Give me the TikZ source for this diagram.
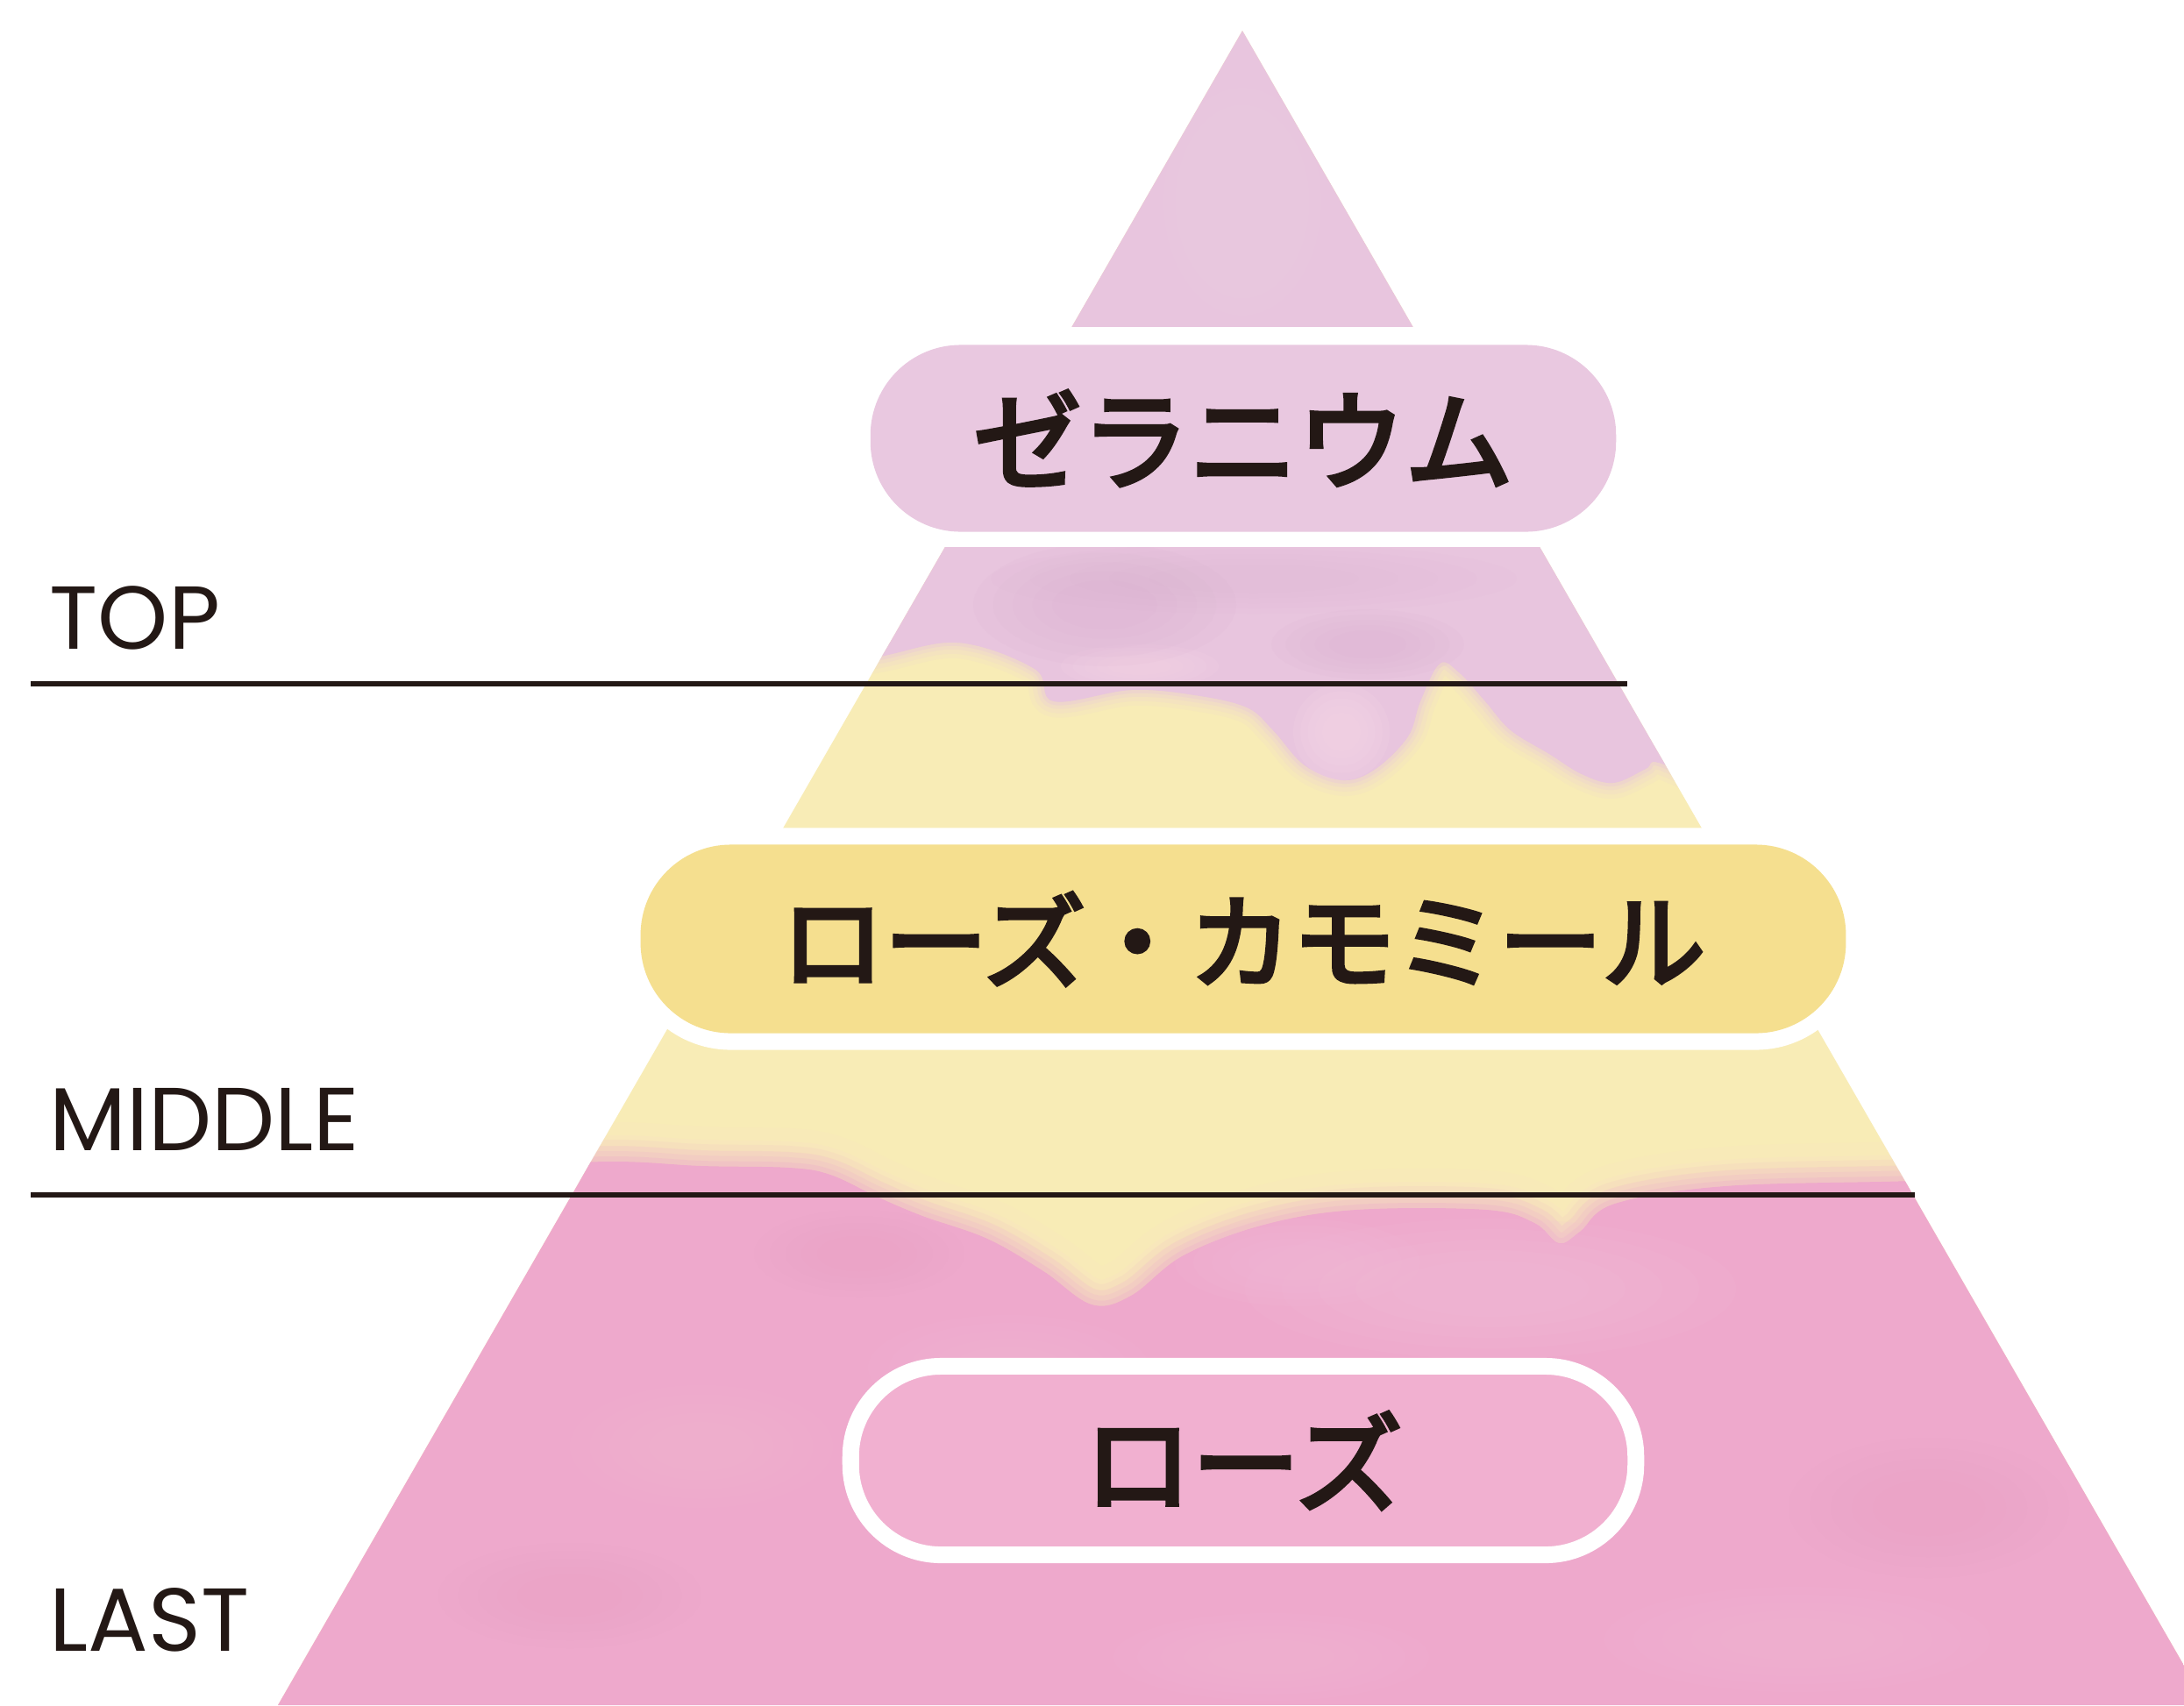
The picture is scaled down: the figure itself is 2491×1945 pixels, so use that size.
\documentclass[tikz,border=0pt]{standalone}
\usepackage{fontspec}
\setmainfont{Poppins}
\newfontfamily\jpfont{Noto Sans CJK JP}[UprightFeatures={FakeBold=4}]
\definecolor{ink}{HTML}{231815}
\definecolor{lav}{HTML}{E8C5DE}
\definecolor{lavlight}{HTML}{EED3E7}
\definecolor{lavdark}{HTML}{DCB0D2}
\definecolor{lavpill}{HTML}{E9C8E0}
\definecolor{pinkdrip}{HTML}{F3D2E4}
\definecolor{yel}{HTML}{F8ECB6}
\definecolor{yelpill}{HTML}{F5DF8F}
\definecolor{peach}{HTML}{F8DCCB}
\definecolor{pnk}{HTML}{EEA9CC}
\definecolor{pnklight}{HTML}{F3C0DA}
\definecolor{pnkdark}{HTML}{EBA1C6}
\definecolor{pnkpill}{HTML}{F1B0D0}
\newcommand\softblob[6]{%
  \foreach \k in {1,0.85,0.7,0.55,0.4}{\fill[#1, opacity=#6] (#2,#3) ellipse [x radius=#4*\k, y radius=#5*\k];}}
\begin{document}
\begin{tikzpicture}[x=0.01cm,y=-0.01cm,
  pillbase/.style={rectangle, rounded corners=1.03cm, inner sep=0pt, text=ink},
  jpbig/.style={font=\jpfont\fontsize{35}{40}\selectfont},
  jpmid/.style={font=\jpfont\fontsize{33.5}{40}\selectfont},
  lvl/.style={anchor=base west, inner sep=0pt, font=\fontsize{29}{34}\selectfont, text=ink},
  rule/.style={draw=ink, line width=0.06cm}]
\useasboundingbox (0,0) rectangle (2491,1945);
\fill[white] (0,0) rectangle (2491,1945);
\begin{scope}
  \clip (0,0) rectangle (2491,1945);
  \clip (1417,35) -- (2517,1945) -- (317,1945) -- cycle;
  % yellow base
  \fill[yel] (0,0) rectangle (2491,1945);
  % lavender upper part with drips
  \def\bone{(1960,900)(1892,870)(1877,877)(1840,893)(1804,883)(1767,860)(1723,833)(1694,800)(1664,767)(1642,757)(1620,800)(1606,840)(1569,877)(1532,890)(1488,873)(1452,833)(1422,807)(1363,793)(1290,787)(1202,800)(1180,763)(1092,733)(997,750)(900,760)}
  \fill[lav] (0,0) -- (2491,0) -- (2491,900) -- plot[smooth, tension=0.6] coordinates {\bone} -- (0,760) -- cycle;
  \foreach \w/\o in {36/0.1,26/0.14,16/0.2,8/0.3}
    \draw[lav, line width=\w*0.01cm, opacity=\o] plot[smooth, tension=0.6] coordinates {\bone};
  % lighter pink inside the drips
  \softblob{pinkdrip}{1530}{835}{55}{55}{0.25}
  \softblob{pinkdrip}{1300}{760}{90}{25}{0.2}
  % darker lavender streaks
  \softblob{lavdark}{1260}{690}{150}{70}{0.1}
  \softblob{lavdark}{1560}{735}{110}{40}{0.1}
  \softblob{lavdark}{1430}{660}{300}{40}{0.06}
  % lighter centre of top triangle
  \softblob{lavlight}{1417}{230}{90}{130}{0.08}
  % pink lower part (section C)
  \def\btwo{(560,1330)(700,1325)(800,1330)(900,1332)(947,1340)(1000,1365)(1052,1387)(1126,1413)(1190,1450)(1245,1488)(1290,1478)(1350,1432)(1442,1397)(1547,1380)(1695,1380)(1750,1395)(1778,1418)(1802,1405)(1842,1373)(1968,1353)(2179,1347)(2280,1340)}
  % peach transition band
  \foreach \w/\o in {90/0.12,60/0.16,35/0.2}
    \draw[peach, line width=\w*0.01cm, opacity=\o] plot[smooth, tension=0.6] coordinates {\btwo};
  \fill[pnk] (0,1945) -- (0,1330) -- plot[smooth, tension=0.6] coordinates {\btwo} -- (2491,1340) -- (2491,1945) -- cycle;
  \foreach \w/\o in {50/0.1,36/0.14,24/0.18,12/0.25}
    \draw[pnk, line width=\w*0.01cm, opacity=\o] plot[smooth, tension=0.6] coordinates {\btwo};
  % watercolour patches in the pink
  \softblob{pnklight}{1700}{1470}{280}{80}{0.12}
  \softblob{pnklight}{1480}{1440}{140}{50}{0.1}
  \softblob{pnklight}{1150}{1560}{160}{60}{0.08}
  \softblob{pnklight}{2050}{1870}{220}{60}{0.08}
  \softblob{pnklight}{1450}{1890}{180}{50}{0.08}
  \softblob{pnklight}{800}{1650}{150}{70}{0.07}
  \softblob{pnkdark}{2200}{1720}{160}{80}{0.08}
  \softblob{pnkdark}{650}{1820}{150}{60}{0.08}
  \softblob{pnkdark}{980}{1430}{120}{50}{0.08}
\end{scope}
% white band around the top pill
\fill[white] (0,373) rectangle (2491,624);
% pills
\node[pillbase, jpbig, fill=lavpill, minimum width=8.5cm, minimum height=2.13cm] (top) at (1418,500) {ゼラニウム};
\node[pillbase, jpmid, fill=yelpill, preaction={draw=white, line width=0.38cm},
  minimum width=13.74cm, minimum height=2.15cm] (mid) at (1418,1071) {ローズ・カモミール};
\node[pillbase, jpbig, fill=pnkpill, draw=white, line width=0.19cm,
  minimum width=8.95cm, minimum height=2.15cm] (last) at (1418,1666) {ローズ};
% level labels and rules
\node[lvl] (ltop) at (56,740) {TOP};
\node[lvl] (lmid) at (56,1312) {MIDDLE};
\node[lvl] (llast) at (56,1883) {LAST};
\coordinate (topL) at (35,780);
\coordinate (topR) at (1856,780);
\coordinate (midL) at (35,1363);
\coordinate (midR) at (2184,1363);
\draw[rule] (topL) -- (topR);
\draw[rule] (midL) -- (midR);
\end{tikzpicture}
\end{document}
